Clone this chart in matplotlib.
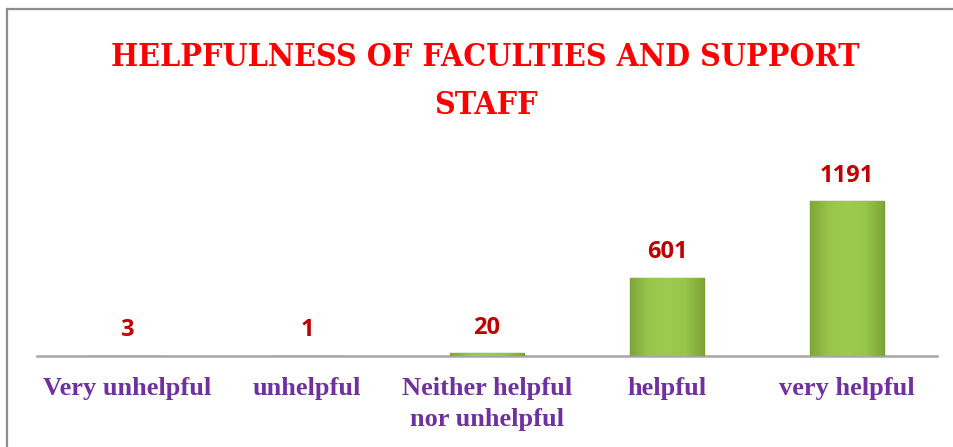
import matplotlib
matplotlib.use("Agg")
import matplotlib.pyplot as plt
import numpy as np
from matplotlib.lines import Line2D
from matplotlib.colors import LinearSegmentedColormap

categories = ["Very unhelpful", "unhelpful", "Neither helpful\nnor unhelpful", "helpful", "very helpful"]
values = [3, 1, 20, 601, 1191]
title_lines = ["HELPFULNESS OF FACULTIES AND SUPPORT", "STAFF"]

W, H = 954, 447
fig = plt.figure(figsize=(W / 100, H / 100), dpi=100)
fig.patch.set_facecolor("white")

def fx(px): return px / W
def fy(py): return 1 - py / H

ax = fig.add_axes([fx(37), fy(356), fx(937) - fx(37), fy(130) - fy(356)])
x = list(range(len(categories)))
bars = ax.bar(x, values, width=0.41, color="#93BF45", edgecolor="#7A9E36", linewidth=1.0, zorder=2)

# subtle bevel-like horizontal gradient inside each bar
cmap = LinearSegmentedColormap.from_list("bev", ["#7FA638", "#98C64B", "#9DCA50", "#98C64B", "#7FA638"])
grad = np.linspace(0, 1, 64).reshape(1, -1)
for b in bars:
    x0, y0 = b.get_x(), b.get_y()
    w, h = b.get_width(), b.get_height()
    im = ax.imshow(grad, extent=[x0, x0 + w, y0, y0 + h], cmap=cmap, aspect="auto", zorder=2.5)
    im.set_clip_path(b)
ax.set_xlim(-0.5, len(categories) - 0.5)
ax.set_ylim(0, 1740)

for s in ["top", "left", "right"]:
    ax.spines[s].set_visible(False)
ax.spines["bottom"].set_color("#A6A6A6")
ax.spines["bottom"].set_linewidth(1.8)
ax.spines["bottom"].set_zorder(1)
ax.set_yticks([])
ax.set_xticks(x)
ax.set_xticklabels(categories, fontsize=19, fontweight="bold", color="#7030A0",
                   family="Liberation Serif", linespacing=1.45)
ax.tick_params(axis="x", length=0, pad=15)

for xi, v in zip(x, values):
    ax.annotate(str(v), (xi, v), xytext=(0, 18.5), textcoords="offset points",
                ha="center", va="center", fontsize=17, fontweight="bold",
                color="#C00000", family="Open Sans")

fig.text(fx(485), fy(57), title_lines[0], ha="center", va="center", fontsize=23,
         fontweight="bold", color="#FF0000", family="DejaVu Serif", fontstretch="condensed")
fig.text(fx(486), fy(106), title_lines[1], ha="center", va="center", fontsize=23,
         fontweight="bold", color="#FF0000", family="DejaVu Serif", fontstretch="condensed")

# chart border (partially visible)
fig.add_artist(Line2D([fx(7), fx(7)], [fy(9), 0], color="#8C8C8C", linewidth=1.6))
fig.add_artist(Line2D([fx(7), 1], [fy(9), fy(9)], color="#8C8C8C", linewidth=1.6))

fig.savefig("out.png", dpi=100)
